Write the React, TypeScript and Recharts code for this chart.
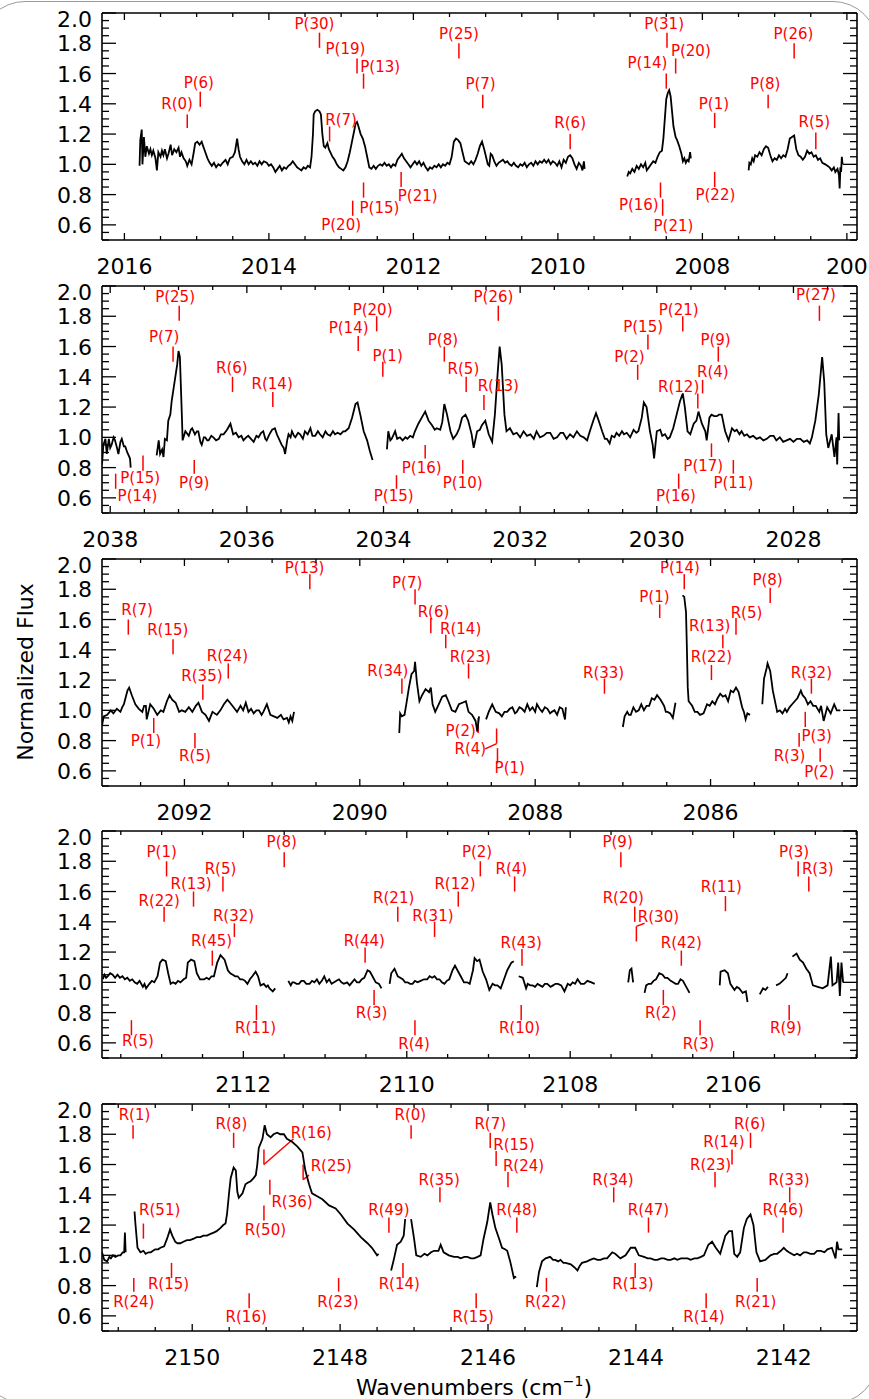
import React from 'react';
import { ComposedChart, Line, Scatter, XAxis, YAxis, ReferenceLine } from 'recharts';

type Pt = [number, number | null];
// [text, line wavenumber, line bottom, line top, text wavenumber, text flux]
type Lab = [string, number, number, number, number, number];
type Leader = [number, number, number, number];

const FONT = 'DejaVu Sans';
const RED = '#ff0000';

const p1Flux: Pt[] = [
  [2015.79,0.99],[2015.78,1.16],[2015.76,1.23],[2015.75,1.0],[2015.73,1.18],[2015.71,1.05],[2015.69,1.12],[2015.66,1.07],[2015.64,1.10],[2015.62,1.06],
  [2015.60,1.09],[2015.57,1.04],[2015.55,0.96],[2015.53,1.08],[2015.50,1.05],[2015.48,1.09],[2015.46,1.06],[2015.44,1.10],[2015.41,1.04],[2015.39,1.07],
  [2015.36,1.13],[2015.34,1.06],[2015.31,1.10],[2015.28,1.08],[2015.25,1.11],[2015.23,1.05],[2015.21,1.08],[2015.18,1.04],[2015.15,1.02],[2015.13,0.99],
  [2015.10,1.03],[2015.07,1.00],[2015.04,1.08],[2015.02,1.14],[2014.99,1.15],[2014.96,1.13],[2014.93,1.15],[2014.91,1.12],[2014.88,1.08],[2014.85,1.04],
  [2014.82,1.01],[2014.79,0.99],[2014.76,1.01],[2014.73,0.98],[2014.70,1.00],[2014.67,0.99],[2014.64,1.01],[2014.60,1.03],[2014.57,1.00],[2014.54,1.04],
  [2014.50,1.05],[2014.47,1.08],[2014.44,1.17],[2014.42,1.10],[2014.40,1.05],[2014.37,1.02],[2014.34,1.00],[2014.31,1.03],[2014.28,1.00],[2014.25,1.02],
  [2014.22,1.00],[2014.19,1.01],[2014.16,0.99],[2014.13,1.02],[2014.10,1.00],[2014.07,1.02],[2014.03,1.01],[2014.00,0.99],[2013.97,1.00],[2013.94,0.98],
  [2013.91,0.95],[2013.88,0.97],[2013.85,0.99],[2013.82,0.96],[2013.79,0.98],[2013.76,0.97],[2013.73,0.99],[2013.70,1.00],[2013.67,1.02],[2013.64,1.00],
  [2013.61,0.98],[2013.58,0.97],[2013.55,0.96],[2013.52,0.98],[2013.49,0.97],[2013.46,0.99],[2013.43,0.98],[2013.41,1.05],[2013.39,1.20],[2013.38,1.33],
  [2013.36,1.35],[2013.33,1.36],[2013.30,1.35],[2013.28,1.33],[2013.26,1.20],[2013.24,1.12],[2013.22,1.11],[2013.19,1.14],[2013.17,1.10],[2013.15,1.08],
  [2013.12,1.05],[2013.09,1.03],[2013.06,1.00],[2013.03,0.98],[2013.00,0.97],[2012.97,0.96],[2012.94,0.98],[2012.91,1.02],[2012.88,1.08],[2012.85,1.15],
  [2012.82,1.22],[2012.80,1.27],[2012.78,1.28],[2012.76,1.25],[2012.73,1.20],[2012.70,1.17],[2012.67,1.12],[2012.64,1.05],[2012.61,0.98],[2012.58,0.97],
  [2012.55,0.99],[2012.52,0.97],[2012.49,0.99],[2012.46,1.00],[2012.43,0.99],[2012.40,1.01],[2012.37,0.99],[2012.34,1.00],[2012.31,0.98],[2012.28,1.00],
  [2012.25,0.99],[2012.22,1.03],[2012.19,1.05],[2012.16,1.07],[2012.13,1.04],[2012.10,1.02],[2012.07,1.00],[2012.04,0.98],[2012.01,1.00],[2011.98,1.02],
  [2011.95,1.00],[2011.92,1.02],[2011.89,0.99],[2011.86,1.01],[2011.83,0.98],[2011.80,0.96],[2011.77,0.98],[2011.74,0.97],[2011.71,0.99],[2011.68,0.98],
  [2011.65,1.00],[2011.62,0.98],[2011.59,1.00],[2011.56,0.99],[2011.53,1.01],[2011.50,1.00],[2011.47,1.05],[2011.44,1.15],[2011.41,1.17],[2011.38,1.16],
  [2011.35,1.14],[2011.32,1.08],[2011.29,1.02],[2011.26,1.01],[2011.23,1.00],[2011.20,1.02],[2011.17,1.00],[2011.14,1.03],[2011.11,1.07],[2011.08,1.12],
  [2011.05,1.15],[2011.02,1.10],[2011.00,1.06],[2010.97,1.00],[2010.95,0.99],[2010.93,1.07],[2010.91,1.06],[2010.88,1.02],[2010.85,0.99],[2010.82,1.01],
  [2010.79,1.02],[2010.76,1.03],[2010.73,1.01],[2010.70,1.02],[2010.67,1.00],[2010.64,0.99],[2010.61,1.01],[2010.58,0.99],[2010.55,0.98],[2010.52,1.00],
  [2010.49,0.99],[2010.46,1.01],[2010.43,0.98],[2010.40,1.00],[2010.37,1.01],[2010.34,0.99],[2010.31,1.02],[2010.28,1.00],[2010.25,1.02],[2010.22,1.01],
  [2010.19,1.03],[2010.16,1.01],[2010.13,1.03],[2010.10,1.00],[2010.07,1.02],[2010.04,1.01],[2010.01,0.99],[2009.98,1.02],[2009.95,0.98],[2009.92,1.03],
  [2009.89,1.01],[2009.86,1.05],[2009.83,1.06],[2009.80,1.04],[2009.77,1.00],[2009.74,0.97],[2009.71,1.01],[2009.68,0.99],[2009.66,0.96],[2009.64,1.02],
  [2009.63,0.97],
  [2009.30,null],
  [2009.04,0.92],[2009.02,0.95],[2009.00,0.94],[2008.97,0.97],[2008.94,0.95],[2008.91,0.99],[2008.88,0.97],[2008.85,1.00],[2008.82,0.98],[2008.79,1.01],
  [2008.77,0.96],[2008.74,0.98],[2008.71,1.00],[2008.68,1.02],[2008.65,1.01],[2008.62,1.05],[2008.59,1.08],[2008.56,1.09],[2008.54,1.17],[2008.52,1.30],
  [2008.50,1.43],[2008.48,1.47],[2008.46,1.49],[2008.44,1.45],[2008.42,1.35],[2008.40,1.25],[2008.37,1.18],[2008.35,1.16],[2008.32,1.12],[2008.29,1.07],
  [2008.27,1.02],[2008.25,1.04],[2008.23,1.01],[2008.21,1.03],[2008.19,1.02],[2008.17,1.08],[2008.16,1.04],
  [2007.80,null],
  [2007.36,0.96],[2007.35,1.01],[2007.33,1.00],[2007.31,1.04],[2007.29,1.02],[2007.27,1.06],[2007.24,1.05],[2007.21,1.08],[2007.18,1.06],[2007.15,1.10],
  [2007.12,1.12],[2007.09,1.11],[2007.06,1.06],[2007.03,1.02],[2007.00,1.04],[2006.97,1.03],[2006.94,1.06],[2006.91,1.04],[2006.88,1.06],[2006.85,1.05],
  [2006.82,1.10],[2006.79,1.17],[2006.76,1.18],[2006.73,1.19],[2006.70,1.10],[2006.67,1.06],[2006.64,1.05],[2006.61,1.03],[2006.58,1.05],[2006.55,1.09],
  [2006.52,1.07],[2006.49,1.08],[2006.46,1.05],[2006.43,1.06],[2006.40,1.03],[2006.37,1.04],[2006.34,1.01],[2006.30,1.00],[2006.27,0.99],[2006.24,0.98],
  [2006.21,0.96],[2006.18,0.98],[2006.16,0.95],[2006.13,0.97],[2006.11,0.93],[2006.10,0.84],[2006.09,0.98],[2006.08,0.95],[2006.07,1.05],[2006.06,1.00],
];

const p1Labels: Lab[] = [
  ['R(0)', 2015.13, 1.24, 1.33, 2015.27, 1.40], ['P(6)', 2014.95, 1.38, 1.48, 2014.97, 1.54],
  ['P(30)', 2013.30, 1.77, 1.87, 2013.37, 1.93], ['P(19)', 2012.78, 1.60, 1.70, 2012.94, 1.76],
  ['P(13)', 2012.69, 1.50, 1.60, 2012.46, 1.64], ['R(7)', 2013.16, 1.15, 1.25, 2013.00, 1.29],
  ['P(15)', 2012.69, 0.78, 0.88, 2012.47, 0.71], ['P(20)', 2012.84, 0.66, 0.76, 2013.00, 0.60],
  ['P(21)', 2012.17, 0.85, 0.95, 2011.94, 0.79], ['P(25)', 2011.37, 1.70, 1.80, 2011.37, 1.86],
  ['P(7)', 2011.04, 1.37, 1.46, 2011.07, 1.53], ['R(6)', 2009.83, 1.10, 1.20, 2009.83, 1.27],
  ['P(31)', 2008.49, 1.77, 1.87, 2008.53, 1.93], ['P(14)', 2008.50, 1.50, 1.60, 2008.76, 1.67],
  ['P(20)', 2008.37, 1.60, 1.70, 2008.16, 1.75], ['P(1)', 2007.83, 1.24, 1.34, 2007.84, 1.40],
  ['P(8)', 2007.09, 1.37, 1.46, 2007.13, 1.53], ['P(26)', 2006.73, 1.70, 1.80, 2006.74, 1.86],
  ['R(5)', 2006.43, 1.10, 1.21, 2006.45, 1.28], ['P(16)', 2008.58, 0.78, 0.88, 2008.88, 0.73],
  ['P(21)', 2008.55, 0.66, 0.77, 2008.40, 0.59], ['P(22)', 2007.83, 0.85, 0.95, 2007.82, 0.80],
];

const p2Flux: Pt[] = [
  [2038.12,0.82],[2038.10,0.95],[2038.07,0.99],[2038.05,0.89],[2038.02,0.99],[2038.00,0.93],[2037.98,0.95],[2037.95,1.00],[2037.93,0.98],[2037.90,0.93],
  [2037.88,0.89],[2037.85,0.97],[2037.83,0.99],[2037.80,0.94],[2037.78,0.94],[2037.75,0.90],[2037.73,0.88],[2037.71,0.86],[2037.70,0.80],
  [2037.50,null],
  [2037.32,0.88],[2037.29,0.98],[2037.27,0.89],[2037.24,0.92],[2037.22,0.87],[2037.20,0.99],[2037.17,0.98],[2037.15,1.11],[2037.12,1.15],[2037.10,1.24],
  [2037.07,1.33],[2037.05,1.39],[2037.02,1.48],[2037.00,1.57],[2036.98,1.53],[2036.95,1.13],[2036.94,0.98],[2036.90,1.04],[2036.85,1.01],[2036.82,1.05],
  [2036.80,1.06],[2036.76,1.02],[2036.73,1.04],[2036.71,1.04],[2036.68,0.97],[2036.66,0.95],[2036.63,1.00],[2036.61,1.00],[2036.58,0.98],[2036.56,0.98],
  [2036.52,1.01],[2036.49,1.00],[2036.45,0.98],[2036.41,0.99],[2036.38,1.02],[2036.34,1.02],[2036.29,1.05],[2036.24,1.09],[2036.20,1.02],[2036.16,1.03],
  [2036.12,1.00],[2036.08,1.01],[2036.05,0.98],[2036.01,1.00],[2035.98,1.01],[2035.94,0.99],[2035.90,0.97],[2035.86,1.01],[2035.83,1.00],[2035.79,1.03],
  [2035.76,1.04],[2035.73,0.99],[2035.71,0.98],[2035.67,1.02],[2035.63,1.05],[2035.59,1.06],[2035.56,1.02],[2035.54,1.00],[2035.51,0.97],[2035.49,0.95],
  [2035.46,0.93],[2035.44,0.89],[2035.41,0.98],[2035.39,1.02],[2035.36,1.00],[2035.34,1.04],[2035.31,1.01],[2035.29,1.00],[2035.25,1.03],[2035.22,1.02],
  [2035.18,0.99],[2035.15,1.04],[2035.11,1.02],[2035.07,1.06],[2035.04,1.01],[2035.00,1.01],[2034.96,1.04],[2034.93,1.02],[2034.89,1.00],[2034.85,1.04],
  [2034.82,1.02],[2034.78,1.01],[2034.74,1.04],[2034.71,1.02],[2034.67,1.03],[2034.63,1.02],[2034.59,1.04],[2034.56,1.04],[2034.51,1.06],[2034.46,1.13],
  [2034.41,1.22],[2034.38,1.23],[2034.34,1.15],[2034.29,1.04],[2034.24,0.98],[2034.20,0.91],[2034.18,0.88],[2034.16,0.85],
  [2034.05,null],
  [2033.95,0.92],[2033.93,1.04],[2033.90,0.98],[2033.88,0.99],[2033.85,1.02],[2033.83,1.04],[2033.80,0.99],[2033.76,1.00],[2033.72,0.98],[2033.68,1.00],
  [2033.65,0.99],[2033.61,1.01],[2033.57,1.00],[2033.54,1.04],[2033.49,1.09],[2033.44,1.13],[2033.39,1.17],[2033.34,1.11],[2033.29,1.08],[2033.25,1.05],
  [2033.22,1.06],[2033.17,1.05],[2033.14,1.10],[2033.11,1.22],[2033.07,1.15],[2033.02,1.04],[2032.98,0.99],[2032.93,1.02],[2032.89,1.06],[2032.85,1.13],
  [2032.80,1.15],[2032.76,1.11],[2032.71,1.02],[2032.68,0.93],[2032.63,1.04],[2032.59,1.05],[2032.56,1.08],[2032.51,1.11],[2032.46,1.02],[2032.41,0.97],
  [2032.37,1.15],[2032.33,1.42],[2032.30,1.60],[2032.27,1.48],[2032.23,1.15],[2032.20,1.04],[2032.15,1.06],[2032.10,1.02],[2032.05,1.03],[2032.00,1.00],
  [2031.95,1.04],[2031.90,1.01],[2031.85,1.02],[2031.80,0.99],[2031.76,1.04],[2031.71,1.00],[2031.66,1.01],[2031.61,1.03],[2031.56,1.03],[2031.51,0.99],
  [2031.46,1.00],[2031.41,1.03],[2031.37,1.03],[2031.32,0.99],[2031.27,1.02],[2031.22,1.00],[2031.17,1.04],[2031.12,1.01],[2031.07,1.00],[2031.02,0.98],
  [2030.98,1.04],[2030.93,1.11],[2030.89,1.16],[2030.85,1.11],[2030.80,1.04],[2030.76,0.99],[2030.73,0.99],[2030.69,0.96],[2030.66,1.01],[2030.62,1.00],
  [2030.59,1.03],[2030.55,1.01],[2030.51,1.04],[2030.48,1.02],[2030.44,1.03],[2030.39,1.00],[2030.34,1.05],[2030.30,1.03],[2030.27,1.04],[2030.22,1.13],
  [2030.19,1.23],[2030.15,1.20],[2030.10,1.04],[2030.06,0.95],[2030.04,0.86],[2030.00,1.04],[2029.95,1.05],[2029.92,1.01],[2029.88,1.02],[2029.84,0.99],
  [2029.81,1.00],[2029.76,1.06],[2029.71,1.15],[2029.66,1.24],[2029.62,1.29],[2029.59,1.20],[2029.55,1.04],[2029.51,1.02],[2029.46,1.09],[2029.42,1.11],
  [2029.39,1.17],[2029.34,1.09],[2029.29,1.04],[2029.27,0.98],[2029.23,1.13],[2029.20,1.15],[2029.16,1.14],[2029.12,1.14],[2029.09,1.15],[2029.05,1.15],
  [2029.00,1.04],[2028.95,0.98],[2028.90,1.06],[2028.86,1.04],[2028.83,1.05],[2028.79,1.02],[2028.76,1.04],[2028.72,1.01],[2028.68,1.02],[2028.64,1.00],
  [2028.59,1.01],[2028.54,0.99],[2028.49,1.00],[2028.44,0.98],[2028.39,0.99],[2028.34,1.01],[2028.29,1.01],[2028.25,0.98],[2028.20,1.00],[2028.15,0.97],
  [2028.10,0.98],[2028.05,0.99],[2028.00,0.97],[2027.95,0.99],[2027.90,0.99],[2027.85,0.97],[2027.80,0.98],[2027.76,0.96],[2027.73,1.00],[2027.68,1.11],
  [2027.63,1.28],[2027.58,1.53],[2027.55,1.37],[2027.52,1.02],[2027.49,0.93],[2027.44,1.02],[2027.40,0.87],[2027.37,1.00],[2027.36,0.82],[2027.34,1.16],
  [2027.33,0.98],
];

const p2Labels: Lab[] = [
  ['P(25)', 2036.99, 1.77, 1.87, 2037.05, 1.93], ['P(7)', 2037.08, 1.50, 1.60, 2037.21, 1.66],
  ['R(6)', 2036.21, 1.30, 1.40, 2036.22, 1.46], ['R(14)', 2035.62, 1.20, 1.30, 2035.63, 1.35],
  ['P(14)', 2034.37, 1.57, 1.67, 2034.51, 1.72], ['P(20)', 2034.10, 1.70, 1.80, 2034.16, 1.84],
  ['P(1)', 2034.01, 1.40, 1.50, 2033.94, 1.54], ['P(15)', 2037.52, 0.78, 0.88, 2037.56, 0.73],
  ['P(14)', 2037.92, 0.66, 0.76, 2037.60, 0.61], ['P(9)', 2036.77, 0.76, 0.85, 2036.77, 0.70],
  ['P(15)', 2033.81, 0.66, 0.75, 2033.85, 0.61], ['P(16)', 2033.39, 0.86, 0.95, 2033.44, 0.80],
  ['P(8)', 2033.11, 1.50, 1.60, 2033.13, 1.64], ['R(5)', 2032.79, 1.30, 1.40, 2032.83, 1.45],
  ['R(13)', 2032.53, 1.18, 1.28, 2032.32, 1.34], ['P(26)', 2032.32, 1.77, 1.87, 2032.39, 1.93],
  ['P(10)', 2032.84, 0.76, 0.85, 2032.84, 0.70], ['P(2)', 2030.28, 1.38, 1.48, 2030.40, 1.53],
  ['P(15)', 2030.13, 1.58, 1.68, 2030.20, 1.73], ['P(21)', 2029.62, 1.70, 1.80, 2029.68, 1.84],
  ['P(9)', 2029.10, 1.50, 1.60, 2029.14, 1.64], ['R(4)', 2029.33, 1.29, 1.38, 2029.18, 1.43],
  ['R(12)', 2029.40, 1.19, 1.29, 2029.68, 1.33], ['P(17)', 2029.20, 0.87, 0.96, 2029.32, 0.81],
  ['P(16)', 2029.68, 0.66, 0.76, 2029.72, 0.61], ['P(11)', 2028.88, 0.76, 0.85, 2028.88, 0.70],
  ['P(27)', 2027.62, 1.77, 1.87, 2027.67, 1.94],
];

const p3Flux: Pt[] = [
  [2092.94,0.90],[2092.92,0.96],[2092.88,0.97],[2092.84,1.00],[2092.81,0.98],[2092.77,1.01],[2092.73,0.99],[2092.71,1.02],[2092.69,1.04],[2092.65,1.13],
  [2092.63,1.15],[2092.60,1.10],[2092.58,1.07],[2092.56,1.04],[2092.52,1.01],[2092.48,0.99],[2092.46,1.03],[2092.44,1.03],[2092.43,0.94],[2092.39,1.04],
  [2092.35,1.01],[2092.31,0.97],[2092.27,1.00],[2092.24,0.99],[2092.20,1.06],[2092.17,1.10],[2092.14,1.07],[2092.10,1.05],[2092.06,0.99],[2092.03,1.00],
  [2091.99,0.99],[2091.95,1.02],[2091.91,0.99],[2091.87,1.03],[2091.84,1.05],[2091.80,0.99],[2091.76,0.97],[2091.72,0.93],[2091.68,0.99],[2091.63,0.97],
  [2091.59,1.00],[2091.55,1.04],[2091.51,1.07],[2091.48,1.05],[2091.44,1.02],[2091.40,0.99],[2091.36,1.03],[2091.33,1.00],[2091.30,1.05],[2091.27,0.99],
  [2091.24,1.01],[2091.21,0.98],[2091.18,1.00],[2091.15,1.00],[2091.12,0.97],[2091.10,0.99],[2091.06,1.04],[2091.02,0.97],[2090.98,0.96],[2090.94,0.95],
  [2090.90,0.97],[2090.87,0.94],[2090.83,0.95],[2090.81,0.92],[2090.79,0.96],[2090.77,0.93],[2090.75,0.99],
  [2090.20,null],
  [2089.55,0.85],[2089.54,0.98],[2089.52,0.96],[2089.49,0.97],[2089.47,1.04],[2089.44,1.15],[2089.41,1.24],[2089.38,1.26],[2089.37,1.32],[2089.35,1.19],
  [2089.32,1.06],[2089.29,1.10],[2089.25,1.14],[2089.21,1.12],[2089.19,1.15],[2089.17,1.04],[2089.14,0.99],[2089.10,1.04],[2089.06,1.09],[2089.02,1.10],
  [2088.99,1.06],[2088.95,1.00],[2088.91,0.99],[2088.87,1.04],[2088.83,1.05],[2088.79,1.06],[2088.76,0.99],[2088.72,0.97],[2088.68,0.93],[2088.66,0.86],
  [2088.64,0.96],
  [2088.60,null],
  [2088.56,0.94],[2088.53,0.99],[2088.49,1.04],[2088.45,0.99],[2088.41,0.98],[2088.38,0.96],[2088.35,0.99],[2088.32,0.99],[2088.29,1.01],[2088.26,1.02],
  [2088.23,0.98],[2088.21,0.99],[2088.18,1.02],[2088.15,1.01],[2088.12,0.99],[2088.09,1.04],[2088.06,1.00],[2088.03,1.02],[2088.00,0.99],[2087.98,1.04],
  [2087.95,1.01],[2087.92,0.99],[2087.89,1.02],[2087.86,1.01],[2087.83,0.98],[2087.81,0.99],[2087.78,1.00],[2087.75,0.97],[2087.72,1.02],[2087.69,1.01],
  [2087.66,0.94],[2087.65,1.02],
  [2087.30,null],
  [2087.00,0.89],[2086.98,0.96],[2086.95,0.99],[2086.93,0.97],[2086.91,0.97],[2086.88,1.02],[2086.85,0.99],[2086.82,1.00],[2086.79,1.04],[2086.76,1.00],
  [2086.73,1.03],[2086.70,1.03],[2086.67,1.08],[2086.64,1.07],[2086.61,1.10],[2086.57,1.07],[2086.53,1.03],[2086.51,0.99],[2086.49,0.99],[2086.46,0.98],
  [2086.43,0.95],[2086.40,1.05],
  [2086.36,null],
  [2086.32,1.76],[2086.30,1.75],[2086.28,1.65],[2086.27,1.41],[2086.26,1.15],[2086.25,1.06],[2086.21,1.03],[2086.18,0.99],[2086.15,0.99],[2086.12,0.97],
  [2086.08,0.98],[2086.04,1.04],[2086.01,1.03],[2085.98,1.06],[2085.95,1.04],[2085.92,1.08],[2085.89,1.11],[2085.86,1.09],[2085.83,1.10],[2085.80,1.06],
  [2085.77,1.13],[2085.74,1.12],[2085.71,1.15],[2085.68,1.12],[2085.64,1.02],[2085.62,0.99],[2085.60,0.94],[2085.58,0.98],[2085.55,0.97],
  [2085.48,null],
  [2085.41,1.04],[2085.39,1.21],[2085.36,1.28],[2085.35,1.31],[2085.32,1.26],[2085.29,1.13],[2085.24,0.99],[2085.21,1.00],[2085.18,0.98],[2085.15,1.01],
  [2085.13,0.99],[2085.10,1.02],[2085.07,1.04],[2085.04,1.06],[2085.01,1.08],[2084.97,1.13],[2084.95,1.10],[2084.92,1.08],[2084.89,1.04],[2084.86,1.06],
  [2084.83,1.03],[2084.80,1.03],[2084.76,0.99],[2084.74,1.03],[2084.71,0.93],[2084.67,1.02],[2084.63,0.98],[2084.59,1.04],[2084.56,1.00],[2084.52,1.00],
];

const p3Labels: Lab[] = [
  ['P(13)', 2090.57, 1.80, 1.90, 2090.63, 1.94], ['R(7)', 2092.64, 1.50, 1.60, 2092.54, 1.66],
  ['R(15)', 2092.13, 1.37, 1.47, 2092.19, 1.53], ['R(24)', 2091.50, 1.21, 1.31, 2091.51, 1.36],
  ['R(35)', 2091.79, 1.07, 1.17, 2091.80, 1.23], ['P(1)', 2092.35, 0.85, 0.95, 2092.44, 0.80],
  ['R(5)', 2091.88, 0.75, 0.85, 2091.88, 0.70], ['P(7)', 2089.37, 1.70, 1.80, 2089.46, 1.84],
  ['R(34)', 2089.52, 1.11, 1.21, 2089.68, 1.26], ['R(6)', 2089.19, 1.51, 1.61, 2089.16, 1.65],
  ['R(14)', 2089.02, 1.41, 1.50, 2088.85, 1.54], ['R(23)', 2088.76, 1.21, 1.31, 2088.74, 1.35],
  ['P(2)', 2088.65, 0.85, 0.95, 2088.85, 0.865], ['R(4)', 2088.44, 0.78, 0.88, 2088.74, 0.745],
  ['P(1)', 2088.43, 0.65, 0.75, 2088.29, 0.62], ['R(33)', 2087.21, 1.11, 1.21, 2087.22, 1.25],
  ['P(1)', 2086.58, 1.61, 1.70, 2086.64, 1.75], ['P(14)', 2086.30, 1.80, 1.90, 2086.35, 1.94],
  ['R(13)', 2085.86, 1.41, 1.50, 2086.01, 1.56], ['R(22)', 2085.99, 1.20, 1.30, 2085.99, 1.35],
  ['R(5)', 2085.71, 1.50, 1.61, 2085.59, 1.64], ['P(8)', 2085.32, 1.71, 1.81, 2085.35, 1.86],
  ['R(32)', 2084.85, 1.11, 1.21, 2084.85, 1.25], ['P(3)', 2084.92, 0.89, 0.99, 2084.79, 0.83],
  ['R(3)', 2084.99, 0.76, 0.85, 2085.10, 0.70], ['P(2)', 2084.75, 0.66, 0.75, 2084.76, 0.59],
];
const p3Leaders: Leader[] = [[2088.44, 0.78, 2088.57, 0.745]];

const p4Flux: Pt[] = [
  [2113.72,1.02],[2113.70,1.05],[2113.68,1.03],[2113.66,1.04],[2113.63,1.06],[2113.60,1.05],[2113.57,1.03],[2113.54,1.05],[2113.51,1.03],[2113.48,1.04],
  [2113.45,1.02],[2113.42,1.03],[2113.39,1.01],[2113.36,1.02],[2113.33,1.00],[2113.30,0.99],[2113.27,1.01],[2113.23,0.97],[2113.21,0.99],[2113.19,0.96],
  [2113.15,0.99],[2113.12,1.01],[2113.09,1.00],[2113.05,1.04],[2113.02,1.13],[2112.99,1.15],[2112.95,1.14],[2112.92,1.06],[2112.89,0.99],[2112.86,1.00],
  [2112.83,0.99],[2112.80,1.01],[2112.77,1.00],[2112.73,1.02],[2112.70,1.03],[2112.68,1.13],[2112.64,1.15],[2112.60,1.14],[2112.57,1.06],[2112.53,1.02],
  [2112.50,1.02],[2112.48,1.02],[2112.45,1.03],[2112.42,1.02],[2112.39,1.04],[2112.36,1.04],[2112.32,1.13],[2112.28,1.18],[2112.23,1.15],[2112.19,1.08],
  [2112.16,1.06],[2112.13,1.05],[2112.10,1.04],[2112.07,1.04],[2112.04,1.02],[2112.01,1.02],[2111.98,1.01],[2111.95,0.99],[2111.92,1.02],[2111.89,1.04],
  [2111.85,1.07],[2111.82,1.04],[2111.79,0.98],[2111.75,0.99],[2111.72,0.97],[2111.70,0.98],[2111.68,0.96],[2111.66,0.95],[2111.64,0.94],[2111.61,0.96],
  [2111.53,null],
  [2111.45,1.01],[2111.42,0.98],[2111.40,1.00],[2111.38,1.00],[2111.35,0.99],[2111.32,0.99],[2111.29,1.01],[2111.26,1.01],[2111.23,0.99],[2111.19,0.99],
  [2111.16,1.01],[2111.13,1.00],[2111.10,1.02],[2111.07,0.99],[2111.04,1.01],[2111.01,1.04],[2110.98,1.00],[2110.95,1.02],[2110.92,0.99],[2110.89,1.00],
  [2110.86,1.01],[2110.83,1.02],[2110.80,1.00],[2110.77,0.99],[2110.73,1.00],[2110.70,0.98],[2110.67,1.00],[2110.64,1.02],[2110.61,1.00],[2110.58,1.00],
  [2110.55,1.02],[2110.52,1.03],[2110.48,1.08],[2110.45,1.07],[2110.42,1.04],[2110.38,1.00],[2110.34,0.99],[2110.31,0.96],
  [2110.26,null],
  [2110.21,0.99],[2110.19,1.06],[2110.15,1.09],[2110.11,1.04],[2110.08,1.03],[2110.05,1.02],[2110.02,1.00],[2109.99,1.00],[2109.96,0.99],[2109.93,0.99],
  [2109.90,1.01],[2109.87,1.00],[2109.83,1.01],[2109.79,1.02],[2109.75,1.02],[2109.72,1.04],[2109.69,1.03],[2109.66,1.04],[2109.63,1.02],[2109.60,1.02],
  [2109.57,1.00],[2109.54,0.99],[2109.51,1.01],[2109.48,1.02],[2109.44,1.08],[2109.41,1.11],[2109.38,1.08],[2109.34,1.04],[2109.30,1.00],[2109.26,1.00],
  [2109.23,0.99],[2109.19,1.08],[2109.17,1.16],[2109.14,1.14],[2109.11,1.15],[2109.07,1.07],[2109.03,1.02],[2108.99,0.95],[2108.95,0.99],[2108.92,0.98],
  [2108.89,0.98],[2108.85,0.96],[2108.81,1.02],[2108.77,1.08],[2108.72,1.13],[2108.69,1.14],
  [2108.66,null],
  [2108.63,1.04],[2108.58,1.03],[2108.54,0.96],[2108.52,0.99],[2108.49,0.98],[2108.46,0.98],[2108.43,0.97],[2108.40,0.99],[2108.37,0.98],[2108.34,0.97],
  [2108.31,0.99],[2108.28,0.99],[2108.24,0.97],[2108.21,0.98],[2108.18,0.99],[2108.15,0.99],[2108.11,0.98],[2108.07,0.94],[2108.03,0.99],[2108.00,0.98],
  [2107.97,1.00],[2107.94,0.99],[2107.91,1.02],[2107.87,0.99],[2107.83,0.99],[2107.79,1.01],[2107.74,1.00],[2107.70,0.99],
  [2107.50,null],
  [2107.29,1.00],[2107.27,1.08],[2107.25,1.09],[2107.23,1.00],
  [2107.16,null],
  [2107.09,0.93],[2107.07,0.98],[2107.04,0.99],[2107.01,0.99],[2106.98,1.01],[2106.95,1.02],[2106.91,1.06],[2106.87,1.05],[2106.84,1.03],[2106.81,1.03],
  [2106.77,1.01],[2106.74,1.00],[2106.71,0.99],[2106.68,0.99],[2106.65,1.02],[2106.62,1.01],[2106.58,0.97],[2106.54,0.93],
  [2106.35,null],
  [2106.17,0.98],[2106.16,1.07],[2106.11,1.08],[2106.07,1.06],[2106.04,0.99],[2105.99,0.95],[2105.96,0.97],[2105.93,0.96],[2105.89,0.93],[2105.85,0.94],
  [2105.83,0.87],
  [2105.75,null],
  [2105.68,0.92],[2105.64,0.96],[2105.61,0.95],[2105.58,0.97],
  [2105.53,null],
  [2105.48,0.98],[2105.44,0.99],[2105.40,1.01],[2105.36,1.03],[2105.34,1.06],
  [2105.31,null],
  [2105.28,1.17],[2105.23,1.19],[2105.19,1.15],[2105.15,1.13],[2105.11,1.09],[2105.07,1.06],[2105.03,0.98],[2104.97,0.97],[2104.91,0.96],[2104.85,0.98],
  [2104.81,1.17],[2104.79,0.98],[2104.74,1.00],[2104.72,1.13],[2104.70,0.91],[2104.68,1.13],[2104.66,1.00],
];

const p4Labels: Lab[] = [
  ['P(1)', 2112.94, 1.70, 1.80, 2113.00, 1.86], ['R(13)', 2112.61, 1.50, 1.60, 2112.64, 1.65],
  ['R(5)', 2112.25, 1.60, 1.70, 2112.28, 1.75], ['R(22)', 2112.97, 1.40, 1.50, 2113.03, 1.54],
  ['R(32)', 2112.11, 1.30, 1.39, 2112.12, 1.44], ['R(45)', 2112.38, 1.11, 1.21, 2112.39, 1.27],
  ['P(8)', 2111.50, 1.76, 1.86, 2111.53, 1.93], ['R(5)', 2113.37, 0.65, 0.75, 2113.29, 0.61],
  ['R(11)', 2111.84, 0.75, 0.85, 2111.85, 0.70], ['R(21)', 2110.11, 1.40, 1.50, 2110.16, 1.56],
  ['R(44)', 2110.51, 1.13, 1.23, 2110.52, 1.27], ['R(3)', 2110.40, 0.85, 0.95, 2110.43, 0.80],
  ['R(4)', 2109.90, 0.65, 0.75, 2109.91, 0.59], ['R(31)', 2109.66, 1.30, 1.40, 2109.68, 1.44],
  ['R(12)', 2109.37, 1.50, 1.60, 2109.41, 1.65], ['P(2)', 2109.10, 1.70, 1.80, 2109.14, 1.86],
  ['R(4)', 2108.68, 1.60, 1.70, 2108.72, 1.75], ['R(43)', 2108.59, 1.11, 1.22, 2108.60, 1.26],
  ['R(10)', 2108.60, 0.75, 0.85, 2108.62, 0.70], ['P(9)', 2107.38, 1.76, 1.86, 2107.42, 1.93],
  ['R(20)', 2107.21, 1.40, 1.50, 2107.35, 1.56], ['R(30)', 2107.19, 1.27, 1.37, 2106.92, 1.43],
  ['R(42)', 2106.64, 1.11, 1.21, 2106.64, 1.26], ['R(2)', 2106.86, 0.85, 0.95, 2106.89, 0.80],
  ['R(3)', 2106.41, 0.65, 0.75, 2106.43, 0.59], ['R(11)', 2106.10, 1.47, 1.57, 2106.15, 1.63],
  ['P(3)', 2105.21, 1.70, 1.80, 2105.26, 1.86], ['R(3)', 2105.08, 1.60, 1.70, 2104.97, 1.75],
  ['R(9)', 2105.32, 0.75, 0.85, 2105.36, 0.70],
];
const p4Leaders: Leader[] = [[2107.19, 1.37, 2107.09, 1.39]];

const p5Flux: Pt[] = [
  [2151.22,1.02],[2151.19,0.97],[2151.15,0.96],[2151.12,0.99],[2151.10,0.98],[2151.07,1.00],[2151.04,0.99],[2151.00,1.00],[2150.97,1.00],[2150.94,1.02],
  [2150.92,1.02],[2150.91,1.15],[2150.90,1.02],
  [2150.84,null],
  [2150.78,1.29],[2150.77,1.22],[2150.74,1.05],[2150.70,1.02],[2150.66,1.03],[2150.63,1.01],[2150.59,1.02],[2150.56,1.02],[2150.53,1.03],[2150.50,1.04],
  [2150.46,1.04],[2150.43,1.05],[2150.38,1.06],[2150.34,1.11],[2150.30,1.17],[2150.27,1.13],[2150.23,1.09],[2150.20,1.08],[2150.16,1.08],[2150.12,1.09],
  [2150.07,1.10],[2150.03,1.10],[2149.98,1.11],[2149.94,1.12],[2149.89,1.12],[2149.85,1.13],[2149.80,1.13],[2149.76,1.14],[2149.71,1.15],[2149.67,1.16],
  [2149.62,1.18],[2149.58,1.20],[2149.55,1.21],[2149.53,1.27],[2149.50,1.42],[2149.48,1.51],[2149.44,1.58],[2149.41,1.56],[2149.39,1.42],[2149.37,1.38],
  [2149.32,1.41],[2149.28,1.47],[2149.25,1.48],[2149.21,1.49],[2149.17,1.51],[2149.14,1.53],[2149.12,1.60],[2149.10,1.71],[2149.05,1.77],[2149.02,1.86],
  [2148.99,1.80],[2148.94,1.78],[2148.90,1.80],[2148.85,1.81],[2148.81,1.80],[2148.76,1.80],[2148.72,1.77],[2148.65,1.75],[2148.58,1.72],[2148.51,1.68],
  [2148.47,1.56],[2148.42,1.47],[2148.38,1.41],[2148.31,1.39],[2148.24,1.37],[2148.15,1.33],[2148.06,1.31],[2147.99,1.27],[2147.90,1.21],[2147.81,1.17],
  [2147.72,1.12],[2147.63,1.08],[2147.57,1.05],[2147.50,1.00],[2147.48,1.01],
  [2147.40,null],
  [2147.31,0.90],[2147.27,0.98],[2147.23,1.07],[2147.18,1.09],[2147.14,1.13],[2147.12,1.24],
  [2147.08,null],
  [2147.04,1.24],[2147.00,1.11],[2146.97,1.00],[2146.91,0.99],[2146.86,1.01],[2146.82,1.00],[2146.77,1.02],[2146.73,1.03],[2146.67,1.03],[2146.64,1.07],
  [2146.60,1.02],[2146.53,1.00],[2146.46,0.99],[2146.41,0.99],[2146.37,0.98],[2146.32,0.99],[2146.28,0.99],[2146.23,0.98],[2146.19,0.98],[2146.14,0.99],
  [2146.10,1.00],[2146.06,1.11],[2146.01,1.22],[2145.97,1.35],[2145.94,1.27],[2145.90,1.18],[2145.85,1.11],[2145.81,1.05],[2145.77,1.04],[2145.74,1.03],
  [2145.70,0.96],[2145.65,0.85],[2145.62,0.86],
  [2145.48,null],
  [2145.34,0.79],[2145.31,0.89],[2145.27,0.96],[2145.22,0.98],[2145.16,0.99],[2145.12,0.97],[2145.09,0.97],[2145.05,0.96],[2145.02,0.97],[2144.98,0.95],
  [2144.95,0.95],[2144.88,0.94],[2144.83,0.92],[2144.79,0.90],[2144.76,0.93],[2144.73,0.95],[2144.66,0.96],[2144.62,0.97],[2144.57,0.98],[2144.52,0.97],
  [2144.48,0.97],[2144.43,0.98],[2144.39,0.98],[2144.32,1.02],[2144.28,1.01],[2144.21,0.98],[2144.14,1.00],[2144.07,1.05],[2144.01,1.05],[2143.96,1.00],
  [2143.89,0.99],[2143.84,0.98],[2143.80,0.98],[2143.75,0.97],[2143.71,0.97],[2143.66,0.98],[2143.62,0.98],[2143.57,0.97],[2143.53,0.97],[2143.48,0.98],
  [2143.44,0.97],[2143.39,0.98],[2143.35,0.98],[2143.30,0.98],[2143.26,0.97],[2143.21,0.98],[2143.17,0.98],[2143.12,0.99],[2143.08,1.00],[2143.02,1.07],
  [2142.97,1.09],[2142.92,1.05],[2142.86,1.01],[2142.79,1.13],[2142.74,1.16],[2142.70,1.16],[2142.67,1.01],[2142.63,0.99],[2142.59,1.02],[2142.54,1.18],
  [2142.50,1.24],[2142.45,1.27],[2142.41,1.20],[2142.37,1.02],[2142.32,0.96],[2142.25,0.97],[2142.18,1.00],[2142.13,1.01],[2142.09,1.01],[2142.04,1.03],
  [2142.00,1.05],[2141.96,1.03],[2141.93,1.02],[2141.86,1.00],[2141.82,1.01],[2141.78,1.00],[2141.73,1.02],[2141.69,1.02],[2141.64,1.01],[2141.59,1.01],
  [2141.55,1.03],[2141.50,1.03],[2141.45,1.02],[2141.41,1.04],[2141.35,1.05],[2141.30,0.98],[2141.28,1.09],[2141.26,1.04],[2141.21,1.04],
];

const p5Labels: Lab[] = [
  ['R(1)', 2150.80, 1.77, 1.86, 2150.78, 1.93], ['R(8)', 2149.44, 1.71, 1.81, 2149.47, 1.87],
  ['R(16)', 2149.03, 1.60, 1.70, 2148.39, 1.81], ['R(25)', 2148.50, 1.50, 1.60, 2148.12, 1.59],
  ['R(36)', 2148.95, 1.40, 1.50, 2148.65, 1.35], ['R(50)', 2149.03, 1.23, 1.33, 2149.01, 1.17],
  ['R(51)', 2150.66, 1.11, 1.21, 2150.44, 1.30], ['R(24)', 2150.79, 0.76, 0.85, 2150.79, 0.69],
  ['R(15)', 2150.28, 0.85, 0.95, 2150.32, 0.81], ['R(16)', 2149.23, 0.65, 0.75, 2149.27, 0.59],
  ['R(23)', 2148.02, 0.76, 0.85, 2148.03, 0.69], ['R(0)', 2147.04, 1.77, 1.86, 2147.05, 1.93],
  ['R(49)', 2147.34, 1.15, 1.25, 2147.34, 1.30], ['R(14)', 2147.15, 0.85, 0.95, 2147.20, 0.81],
  ['R(35)', 2146.65, 1.35, 1.45, 2146.66, 1.50], ['R(7)', 2145.97, 1.71, 1.81, 2145.97, 1.87],
  ['R(15)', 2145.89, 1.59, 1.69, 2145.65, 1.73], ['R(24)', 2145.73, 1.45, 1.55, 2145.52, 1.59],
  ['R(48)', 2145.61, 1.15, 1.25, 2145.61, 1.30], ['R(15)', 2146.16, 0.65, 0.75, 2146.20, 0.59],
  ['R(22)', 2145.21, 0.76, 0.85, 2145.22, 0.69], ['R(34)', 2144.30, 1.35, 1.45, 2144.31, 1.50],
  ['R(47)', 2143.83, 1.15, 1.25, 2143.83, 1.30], ['R(13)', 2144.01, 0.85, 0.95, 2144.04, 0.81],
  ['R(23)', 2142.93, 1.45, 1.55, 2142.99, 1.60], ['R(14)', 2142.70, 1.60, 1.70, 2142.81, 1.75],
  ['R(6)', 2142.45, 1.71, 1.81, 2142.46, 1.87], ['R(33)', 2141.92, 1.35, 1.45, 2141.93, 1.50],
  ['R(46)', 2142.01, 1.15, 1.25, 2142.01, 1.30], ['R(14)', 2143.05, 0.65, 0.75, 2143.08, 0.59],
  ['R(21)', 2142.36, 0.76, 0.85, 2142.38, 0.69],
];
const p5Leaders: Leader[] = [[2149.03, 1.60, 2148.63, 1.77], [2148.50, 1.50, 2148.42, 1.53]];

// x ticks every 0.5 cm^-1, labelled every 2
const p1Ticks = [2006, 2006.5, 2007, 2007.5, 2008, 2008.5, 2009, 2009.5, 2010, 2010.5, 2011, 2011.5, 2012, 2012.5, 2013, 2013.5, 2014, 2014.5, 2015, 2015.5, 2016];
const p2Ticks = [2027.5, 2028, 2028.5, 2029, 2029.5, 2030, 2030.5, 2031, 2031.5, 2032, 2032.5, 2033, 2033.5, 2034, 2034.5, 2035, 2035.5, 2036, 2036.5, 2037, 2037.5, 2038];
const p3Ticks = [2084.5, 2085, 2085.5, 2086, 2086.5, 2087, 2087.5, 2088, 2088.5, 2089, 2089.5, 2090, 2090.5, 2091, 2091.5, 2092, 2092.5];
const p4Ticks = [2104.5, 2105, 2105.5, 2106, 2106.5, 2107, 2107.5, 2108, 2108.5, 2109, 2109.5, 2110, 2110.5, 2111, 2111.5, 2112, 2112.5, 2113, 2113.5];
const p5Ticks = [2141.5, 2142, 2142.5, 2143, 2143.5, 2144, 2144.5, 2145, 2145.5, 2146, 2146.5, 2147, 2147.5, 2148, 2148.5, 2149, 2149.5, 2150, 2150.5, 2151];
const yTicks = [0.5, 0.55, 0.6, 0.65, 0.7, 0.75, 0.8, 0.85, 0.9, 0.95, 1.0, 1.05, 1.1, 1.15, 1.2, 1.25, 1.3, 1.35, 1.4, 1.45, 1.5, 1.55, 1.6, 1.65, 1.7, 1.75, 1.8, 1.85, 1.9, 1.95, 2.0];

const panels = [
  { top: 13, domain: [2005.86, 2016.31], ticks: p1Ticks, flux: p1Flux, labels: p1Labels, leaders: [] as Leader[], tickText: { 2006: '200' } as Record<number, string> },
  { top: 286, domain: [2027.07, 2038.12], ticks: p2Ticks, flux: p2Flux, labels: p2Labels, leaders: [] as Leader[], tickText: {} },
  { top: 559, domain: [2084.33, 2092.94], ticks: p3Ticks, flux: p3Flux, labels: p3Labels, leaders: p3Leaders, tickText: {} },
  { top: 831, domain: [2104.49, 2113.73], ticks: p4Ticks, flux: p4Flux, labels: p4Labels, leaders: p4Leaders, tickText: {} },
  { top: 1104, domain: [2141.01, 2151.22], ticks: p5Ticks, flux: p5Flux, labels: p5Labels, leaders: p5Leaders, tickText: {} },
];

const isMajorX = (v: number) => Math.abs(v / 2 - Math.round(v / 2)) < 1e-6;
const isMajorY = (v: number) => Math.abs(v * 5 - Math.round(v * 5)) < 1e-6 && v > 0.55;

const txt = { fontFamily: FONT, fontSize: 22, fill: '#000' };

const BottomTick = (props: any) => {
  const { x, y, payload, names } = props;
  const v = payload.value;
  const major = isMajorX(v);
  return (
    <g>
      <line x1={x} x2={x} y1={y} y2={y - (major ? 7 : 4)} stroke="#000" strokeWidth={1.3} />
      {major && <text x={x} y={y + 34} textAnchor="middle" {...txt}>{names[v] ?? String(v)}</text>}
    </g>
  );
};

const TopTick = (props: any) => {
  const { x, y, payload } = props;
  const major = isMajorX(payload.value);
  return <line x1={x} x2={x} y1={y} y2={y + (major ? 7 : 4)} stroke="#000" strokeWidth={1.3} />;
};

const LeftTick = (props: any) => {
  const { x, y, payload } = props;
  const v = payload.value;
  const major = isMajorY(v);
  return (
    <g>
      <line x1={x} x2={x + (major ? 14 : 7)} y1={y} y2={y} stroke="#000" strokeWidth={1.3} />
      {major && <text x={x - 10} y={y + 8 + (v > 1.95 ? 6 : 0)} textAnchor="end" {...txt}>{v.toFixed(1)}</text>}
    </g>
  );
};

const RightTick = (props: any) => {
  const { x, y, payload } = props;
  const major = isMajorY(payload.value);
  return <line x1={x} x2={x - (major ? 14 : 7)} y1={y} y2={y} stroke="#000" strokeWidth={1.3} />;
};

const axisLine = { stroke: '#000', strokeWidth: 1.6 };

function Panel({ p }: { p: (typeof panels)[number] }) {
  const rows = p.flux.map(([w, f]) => ({ w, f }));
  const texts = p.labels.map(([t, , , , tw, tf]) => ({ w: tw, f: tf, t }));
  return (
    <div style={{ position: 'absolute', left: 0, top: p.top - 10 }}>
      <ComposedChart width={869} height={277} margin={{ top: 5, right: 7, bottom: 0, left: 0 }}>
        <XAxis xAxisId="b" dataKey="w" type="number" domain={p.domain} reversed allowDataOverflow
          ticks={p.ticks} interval={0} tickSize={0} tickMargin={0} height={40} axisLine={axisLine} tickLine={false}
          tick={(t: any) => <BottomTick {...t} names={p.tickText} />} />
        <XAxis xAxisId="t" orientation="top" dataKey="w" type="number" domain={p.domain} reversed allowDataOverflow
          ticks={p.ticks} interval={0} tickSize={0} tickMargin={0} height={5} axisLine={axisLine} tickLine={false}
          tick={(t: any) => <TopTick {...t} />} />
        <YAxis yAxisId="l" type="number" domain={[0.5, 2.0]} allowDataOverflow ticks={yTicks} interval={0}
          tickSize={0} tickMargin={0} width={102} axisLine={axisLine} tickLine={false}
          tick={(t: any) => <LeftTick {...t} />} />
        <YAxis yAxisId="r" orientation="right" type="number" domain={[0.5, 2.0]} allowDataOverflow ticks={yTicks} interval={0}
          tickSize={0} tickMargin={0} width={5} axisLine={axisLine} tickLine={false}
          tick={(t: any) => <RightTick {...t} />} />
        {p.labels.map(([t, w, lo, hi], i) => (
          <ReferenceLine key={'l' + i} xAxisId="b" yAxisId="l" segment={[{ x: w, y: lo }, { x: w, y: hi }]}
            stroke={RED} strokeWidth={1.5} ifOverflow="visible" />
        ))}
        {p.leaders.map(([x1, y1, x2, y2], i) => (
          <ReferenceLine key={'d' + i} xAxisId="b" yAxisId="l" segment={[{ x: x1, y: y1 }, { x: x2, y: y2 }]}
            stroke={RED} strokeWidth={1.5} ifOverflow="visible" />
        ))}
        <Line xAxisId="b" yAxisId="l" data={rows} dataKey="f" type="linear" stroke="#000" strokeWidth={1.8}
          dot={false} activeDot={false} connectNulls={false} isAnimationActive={false} />
        <Scatter xAxisId="b" yAxisId="l" data={texts} dataKey="f" isAnimationActive={false}
          shape={(s: any) => (
            <text x={s.cx} y={s.cy} textAnchor="middle" dominantBaseline="central"
              fontFamily={FONT} fontSize={15} fill={RED}>{s.payload.t}</text>
          )} />
      </ComposedChart>
    </div>
  );
}

export default function App() {
  return (
    <div style={{ position: 'absolute', left: 0, top: 0, width: 869, height: 1399, background: '#fff', overflow: 'hidden' }}>
      <div style={{ position: 'absolute', left: -20, top: 1, width: 898, height: 1403, border: '1.5px solid #9a9a9a', borderRadius: 45, boxSizing: 'border-box' }} />
      {panels.map((p, i) => <Panel key={i} p={p} />)}
      <svg width={869} height={1399} style={{ position: 'absolute', left: 0, top: 0, pointerEvents: 'none' }}>
        <text x={0} y={0} transform="translate(33 672) rotate(-90)" textAnchor="middle" fontFamily={FONT} fontSize={22} fill="#000">
          Normalized  Flux
        </text>
        <text x={474} y={1395} textAnchor="middle" fontFamily={FONT} fontSize={22} fill="#000">
          Wavenumbers (cm<tspan dy={-9} fontSize={14}>−1</tspan><tspan dy={9}>)</tspan>
        </text>
      </svg>
    </div>
  );
}
